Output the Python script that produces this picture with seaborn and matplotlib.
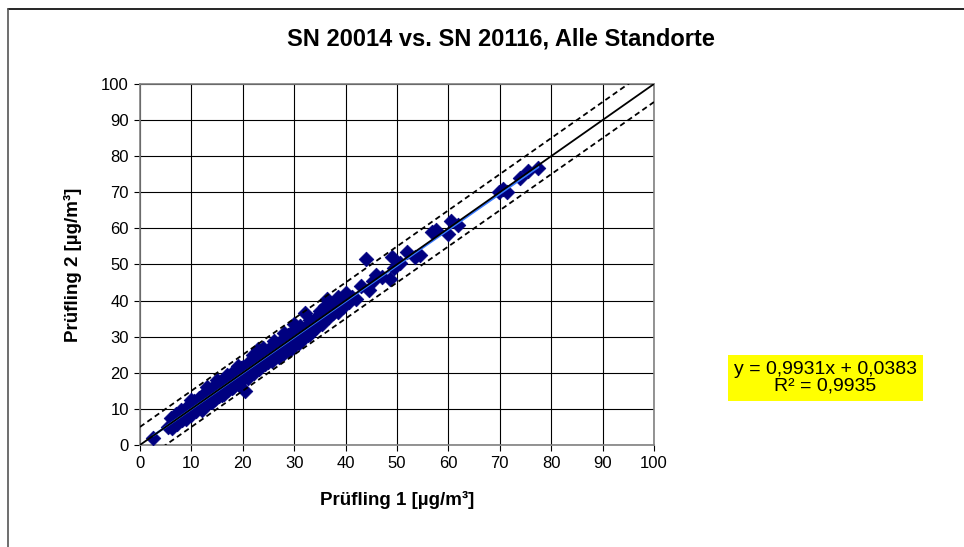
import matplotlib.pyplot as plt
from matplotlib.lines import Line2D
import numpy as np
import pandas as pd
import seaborn as sns

sns.set_theme(style="white")
plt.rcParams['font.family'] = ['Liberation Sans', 'DejaVu Sans']

# Colors
MARKER_COLOR = "#000080"
FIT_COLOR = "#3A7BFF"
BOX_COLOR = "#FFFF00"

TITLE = "SN 20014 vs. SN 20116, Alle Standorte"
X_LABEL = "Prüfling 1 [µg/m³]"
Y_LABEL = "Prüfling 2 [µg/m³]"
FIT_TEXT = "y = 0,9931x + 0,0383\nR² = 0,9935"

# Fit from the reference and the +/- tolerance band
SLOPE = 0.9931
INTERCEPT = 0.0383
BAND = 5
TICKS = [0, 10, 20, 30, 40, 50, 60, 70, 80, 90, 100]

# Readings
pruefling_1 = [
    2.5, 5.5, 6.0, 6.3, 6.8, 7.0, 7.2, 7.6, 8.0, 8.2, 8.5, 8.9, 9.0, 9.4, 9.8,
    10.0, 10.3, 10.6, 10.9, 11.2, 11.5, 11.8, 12.1, 12.4, 12.7, 13.0, 13.3, 13.6,
    13.9, 14.2, 14.5, 14.8, 15.1, 15.4, 15.7, 16.0, 16.3, 16.6, 16.9, 17.2, 17.5,
    17.8, 18.1, 18.4, 18.7, 19.0, 19.3, 19.6, 19.9, 20.2, 20.5, 20.8, 21.1, 21.4,
    21.8, 22.1, 22.5, 22.9, 23.2, 23.6, 24.0, 24.4, 24.8, 25.2, 25.6, 26.0, 26.4,
    26.8, 27.2, 27.6, 28.0, 28.4, 28.8, 29.2, 29.6, 30.0, 30.4, 30.8, 31.2, 31.6,
    32.0, 32.2, 32.6, 33.0, 33.5, 34.0, 34.5, 35.0, 35.5, 36.0, 36.4, 36.8, 37.3,
    38.0, 38.5, 39.0, 39.5, 40.0, 40.6, 41.2, 42.0, 43.0, 44.0, 44.5, 45.3, 46.0,
    47.0, 48.6, 49.0, 49.5, 50.5, 52.0, 53.5, 54.5, 56.8, 57.5, 60.0, 60.5, 61.8,
    69.8, 70.6, 71.5, 74.0, 75.5, 77.5,
    7.5, 9.5, 11.0, 12.5, 13.5, 14.5, 15.5, 16.5, 17.5, 18.5, 19.5, 20.5, 21.5,
    22.5, 23.5, 24.5, 25.5, 26.5, 27.5, 28.5, 29.5, 30.5, 31.5, 33.0, 34.0, 35.0,
    22.0, 24.0, 26.0, 28.0, 30.0, 27.0, 29.0, 31.0, 15.0, 17.0, 10.0, 12.0, 14.0,
    16.0, 18.0,
    8.0, 9.0, 10.5, 11.5, 12.0, 13.0, 14.0, 15.0, 16.0, 17.0, 18.0, 19.0, 20.0,
    21.0, 22.0, 23.0, 24.0, 25.0, 26.0, 27.0, 28.0, 29.0, 30.0, 31.0, 32.0, 33.0,
    34.0, 35.0, 13.0, 19.0, 23.0, 25.0, 21.0, 33.0, 37.5, 38.5,
]
pruefling_2 = [
    2.0, 5.0, 7.5, 4.8, 6.5, 8.5, 5.8, 7.9, 9.6, 6.9, 8.0, 10.2, 7.2, 9.1, 11.0,
    8.3, 10.0, 12.1, 9.3, 11.4, 13.0, 10.2, 12.0, 14.0, 11.0, 13.2, 15.0, 11.9,
    14.1, 16.0, 12.6, 14.7, 16.9, 13.5, 15.8, 17.6, 14.2, 16.5, 18.8, 15.3, 17.4,
    19.6, 16.0, 18.3, 20.5, 16.8, 19.2, 21.3, 17.9, 20.0, 15.0, 22.4, 19.0, 21.2,
    23.4, 20.0, 22.6, 24.8, 21.0, 23.5, 25.9, 22.3, 24.6, 26.8, 23.4, 25.8, 27.9,
    24.8, 27.0, 29.2, 25.5, 28.3, 30.6, 26.9, 29.5, 31.8, 28.0, 30.6, 33.0, 29.2,
    32.0, 36.5, 30.5, 33.8, 31.5, 35.0, 32.8, 36.2, 33.5, 38.5, 40.5, 35.5, 38.0,
    39.5, 36.8, 40.0, 38.2, 42.0, 39.5, 41.0, 40.5, 44.0, 51.5, 43.0, 45.5, 47.0,
    46.5, 46.0, 52.0, 49.0, 50.5, 53.5, 52.0, 52.6, 59.0, 59.5, 58.5, 62.0, 61.0,
    70.0, 70.8, 70.2, 74.0, 76.0, 76.8,
    7.0, 10.0, 11.5, 12.3, 13.8, 15.2, 15.0, 17.0, 18.0, 19.0, 19.8, 21.0, 22.0,
    23.0, 24.0, 25.0, 25.8, 26.5, 28.0, 29.0, 30.0, 31.0, 32.0, 32.5, 34.0, 35.0,
    25.0, 27.0, 28.8, 31.0, 33.5, 24.3, 26.0, 28.3, 18.0, 19.5, 12.5, 9.8, 11.8,
    13.8, 15.7,
    8.5, 9.0, 10.8, 12.0, 13.5, 12.5, 14.5, 14.0, 16.2, 16.5, 18.5, 19.0, 21.5,
    20.5, 22.0, 23.5, 23.5, 26.0, 26.0, 27.5, 28.0, 29.5, 29.8, 31.5, 31.0, 34.5,
    33.0, 37.0, 16.0, 22.0, 26.5, 23.0, 18.5, 30.8, 36.5, 41.0,
]

df = pd.DataFrame({"p1": pruefling_1, "p2": pruefling_2})

fig = plt.figure(figsize=(9.64, 5.47), dpi=100)
ax = fig.add_axes([0.1452, 0.1865, 0.5332, 0.66])

# Scatter
sns.scatterplot(data=df, x="p1", y="p2", marker="D", s=56, color=MARKER_COLOR,
                edgecolor=MARKER_COLOR, linewidth=0.5, ax=ax, zorder=3)

# Regression line over the data range
fit_x = np.array([df["p1"].min(), df["p1"].max()])
sns.lineplot(x=fit_x, y=SLOPE * fit_x + INTERCEPT, color=FIT_COLOR, linewidth=1.6,
             ax=ax, zorder=4)

# 1:1 line and tolerance band
ref = np.array([0, 100])
ax.plot(ref, ref, color="black", linewidth=1.3, zorder=5)
ax.plot(ref, ref + BAND, color="black", linewidth=1.3, linestyle=(0, (3, 2)), zorder=5)
ax.plot(ref, ref - BAND, color="black", linewidth=1.3, linestyle=(0, (3, 2)), zorder=5)

ax.set_xlim(0, 100)
ax.set_ylim(0, 100)
ax.set_xticks(TICKS)
ax.set_yticks(TICKS)
ax.grid(True, color="black", linewidth=0.8)
ax.set_axisbelow(True)
for s in ax.spines.values():
    s.set_color("#808080")
    s.set_linewidth(1.2)
ax.tick_params(axis="both", direction="out", length=4, width=0.8, color="black",
               labelsize=12, labelcolor="black", pad=4, bottom=True, left=True)

ax.set_xlabel(X_LABEL, fontsize=13.5, fontweight="bold", color="black", labelpad=14)
ax.set_ylabel(Y_LABEL, fontsize=13.5, fontweight="bold", color="black", labelpad=14)
fig.text(0.52, 0.929, TITLE, ha="center", va="center", fontsize=17,
         fontweight="bold", color="black")

fig.text(0.856, 0.309, FIT_TEXT, ha="center", va="center", fontsize=14,
         linespacing=1.0, color="black",
         bbox=dict(boxstyle="square,pad=0.3", facecolor=BOX_COLOR, edgecolor="none"))

# Outer chart frame (open at right and bottom as in the reference)
fig.add_artist(Line2D([0.008, 1.0], [0.983, 0.983], color="black", linewidth=1.2))
fig.add_artist(Line2D([0.008, 0.008], [0.0, 0.983], color="#555555", linewidth=1.2))

plt.savefig("out.png", dpi=100)
